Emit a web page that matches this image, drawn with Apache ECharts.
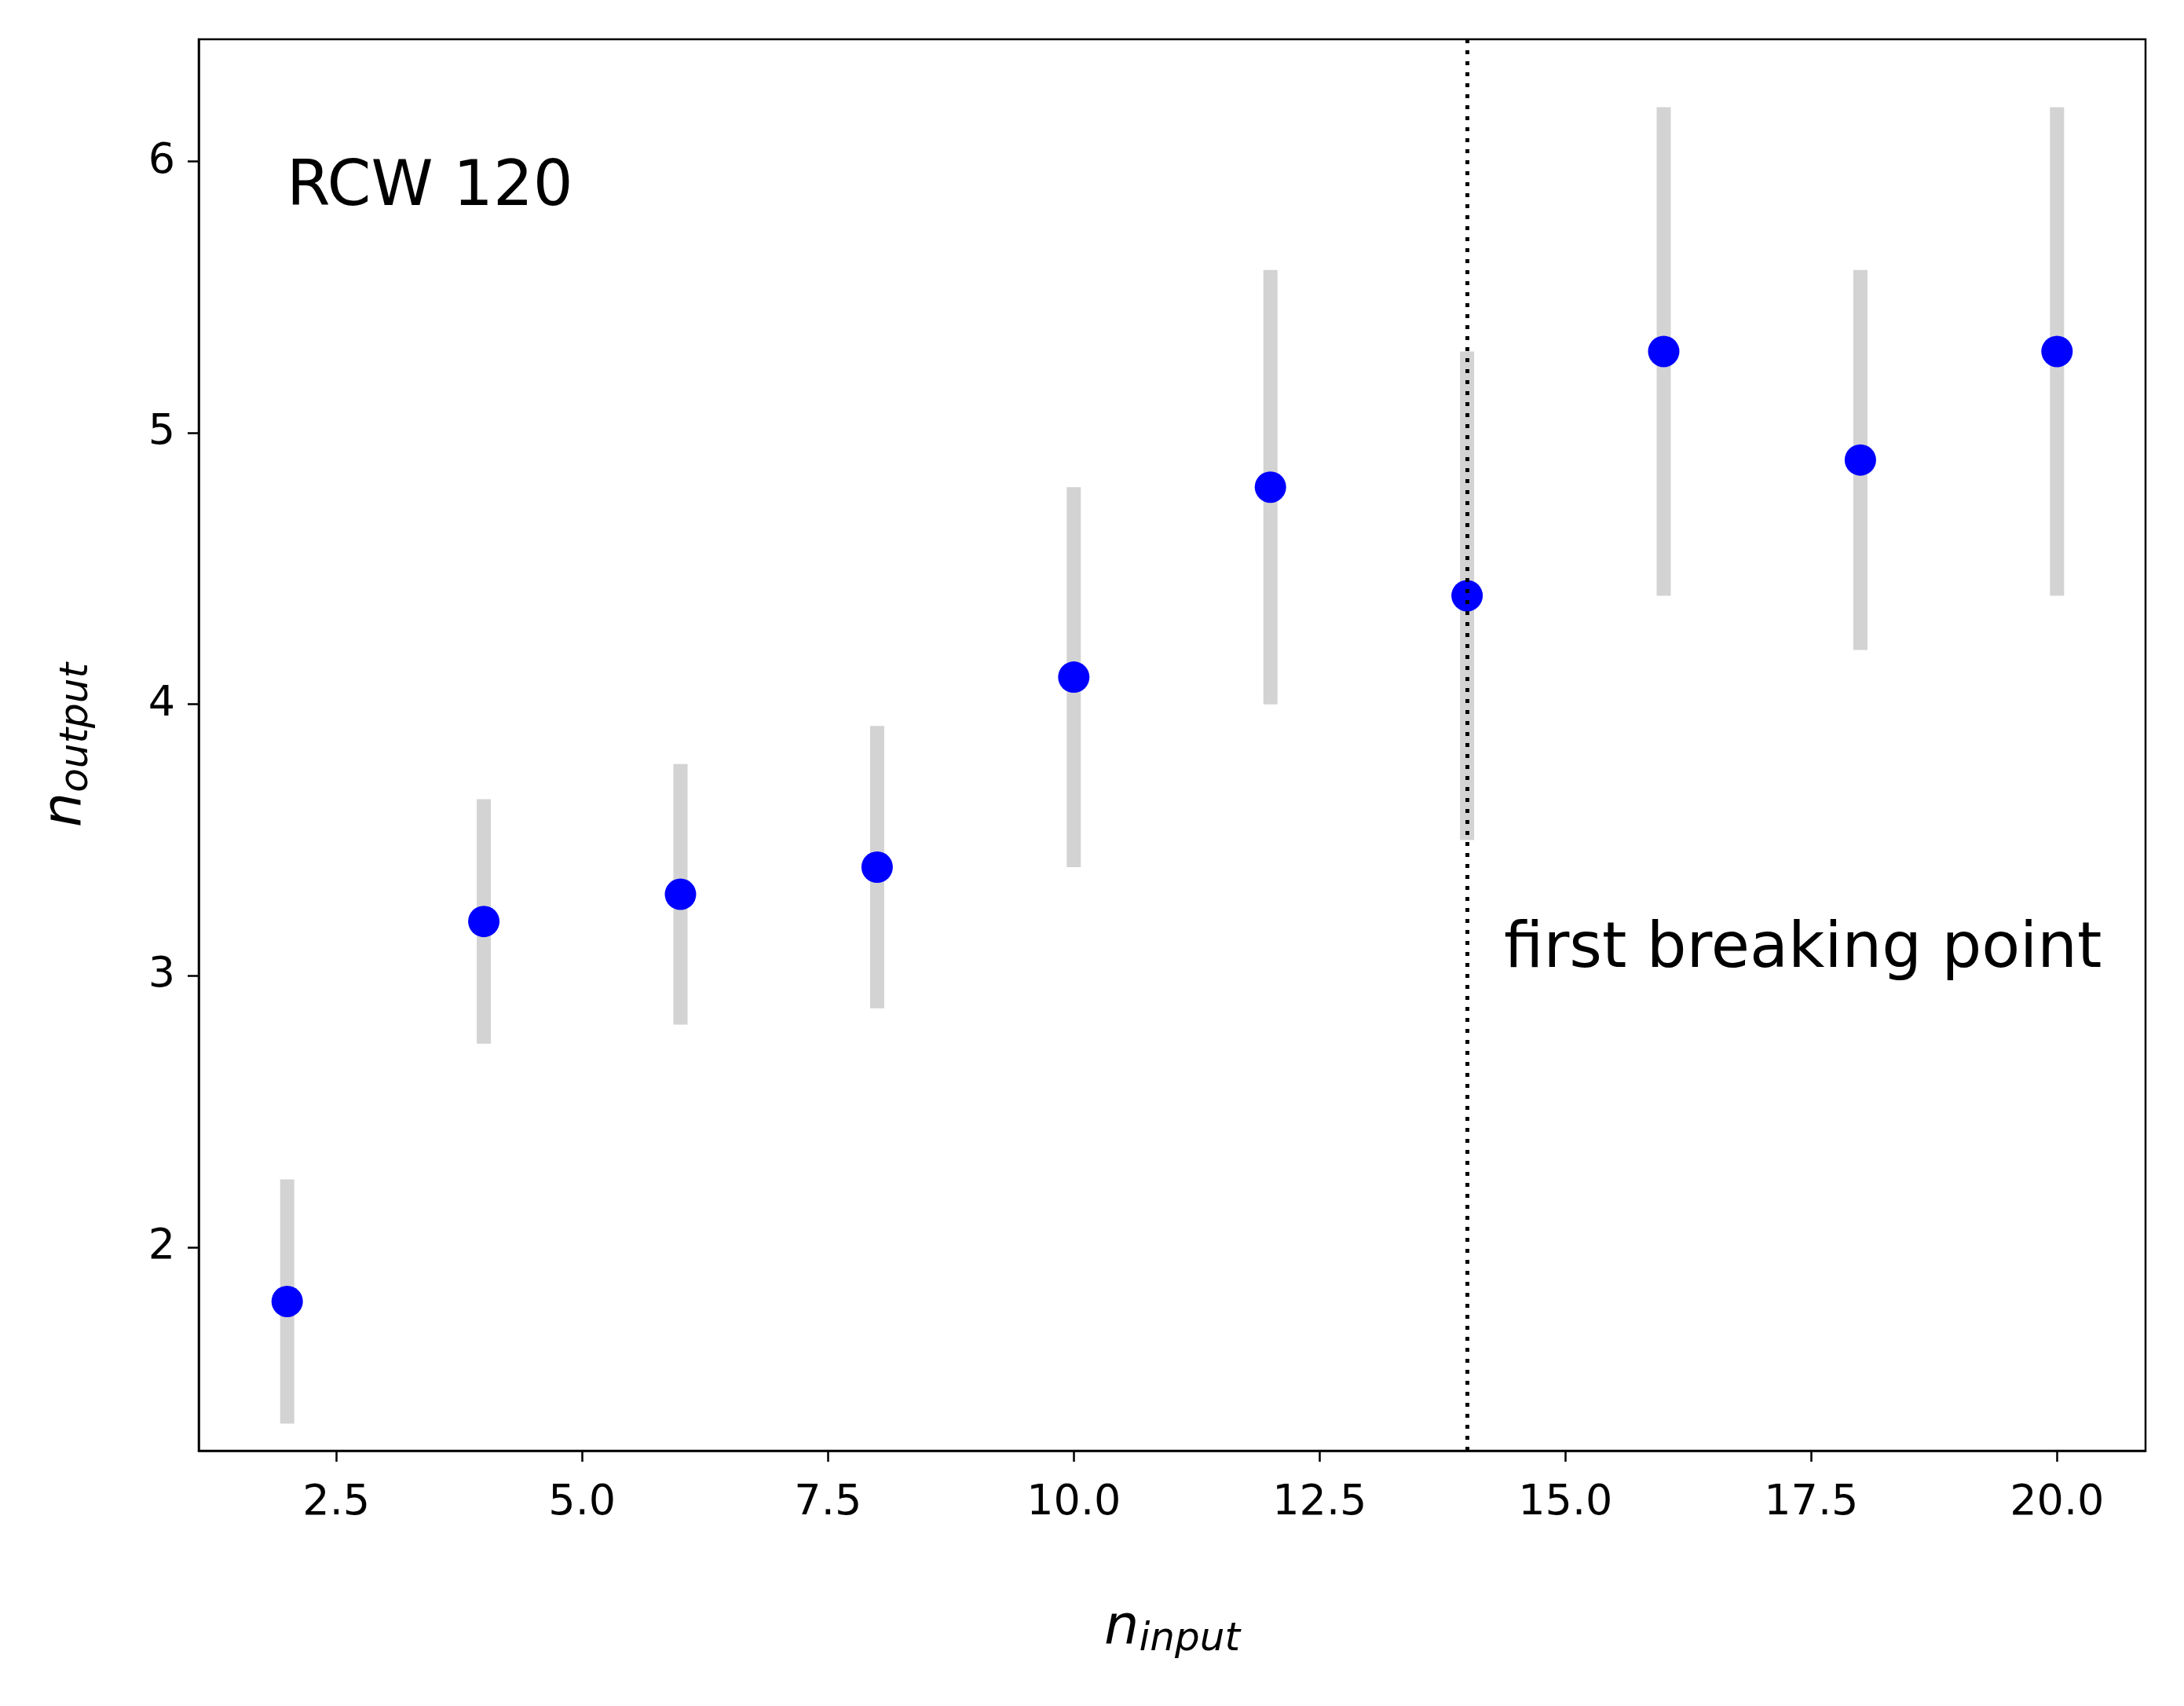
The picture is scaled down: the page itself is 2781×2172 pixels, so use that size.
<!DOCTYPE html>
<html>
<head>
    <meta charset="utf-8">
    <title>RCW 120</title>
    <script src="https://cdn.jsdelivr.net/npm/echarts@6/dist/echarts.min.js"></script>
    <style>html,body{margin:0;padding:0;background:#fff;}</style>
</head>
<body>
    <div id="main" style="width: 2781px;height:2172px;"></div>
    <script type="text/javascript">
        var nInput = [2, 4, 6, 8, 10, 12, 14, 16, 18, 20];
        var nOutput = [1.8, 3.2, 3.3, 3.4, 4.1, 4.8, 4.4, 5.3, 4.9, 5.3];
        var errLow = [1.35, 2.75, 2.82, 2.88, 3.4, 4.0, 3.5, 4.4, 4.2, 4.4];
        var errHigh = [2.25, 3.65, 3.78, 3.92, 4.8, 5.6, 5.3, 6.2, 5.6, 6.2];
        var xTicks = [2.5, 5.0, 7.5, 10.0, 12.5, 15.0, 17.5, 20.0];
        var yTicks = [2, 3, 4, 5, 6];
        var breakX = 14;

        var chart = echarts.init(document.getElementById('main'));
        var font = 'DejaVu Sans';

        var points = nInput.map(function (x, i) { return [x, nOutput[i]]; });
        var bars = nInput.map(function (x, i) { return [x, errLow[i], errHigh[i]]; });

        var nameRich = {
            i: { fontSize: 70, fontStyle: 'italic', fontFamily: font, color: '#000' },
            s: { fontSize: 50, fontStyle: 'italic', fontFamily: font, color: '#000', verticalAlign: 'bottom', padding: [26, 0, 0, 0] }
        };

        var option = {
            animation: false,
            textStyle: { fontFamily: font },
            grid: { left: 253, right: 49, top: 50, bottom: 325 },
            xAxis: {
                type: 'value', min: 1.1, max: 20.9,
                name: '{i|n}{s|input}', nameLocation: 'middle', nameGap: 190,
                nameTextStyle: { rich: nameRich },
                axisLine: { onZero: false, lineStyle: { color: '#000', width: 2.5 } },
                axisTick: { customValues: xTicks, length: 14, lineStyle: { color: '#000', width: 2.5 } },
                axisLabel: { customValues: xTicks, fontSize: 54, color: '#000', margin: 40,
                    formatter: function (v) { return v.toFixed(1); } },
                splitLine: { show: false }
            },
            yAxis: {
                type: 'value', min: 1.25, max: 6.45,
                name: '{i|n}{s|output}', nameLocation: 'middle', nameGap: 130,
                nameTextStyle: { rich: nameRich },
                axisLine: { show: true, onZero: false, lineStyle: { color: '#000', width: 2.5 } },
                axisTick: { show: true, customValues: yTicks, length: 14, lineStyle: { color: '#000', width: 2.5 } },
                axisLabel: { customValues: yTicks, fontSize: 54, color: '#000', margin: 30 },
                splitLine: { show: false }
            },
            series: [
                {
                    type: 'custom',
                    data: bars,
                    encode: { x: 0, y: [1, 2] },
                    renderItem: function (params, api) {
                        var p1 = api.coord([api.value(0), api.value(1)]);
                        var p2 = api.coord([api.value(0), api.value(2)]);
                        return {
                            type: 'line',
                            shape: { x1: p1[0], y1: p1[1], x2: p2[0], y2: p2[1] },
                            style: { stroke: '#d3d3d3', lineWidth: 18 }
                        };
                    },
                    z: 1
                },
                {
                    type: 'scatter',
                    data: points,
                    symbolSize: 40,
                    itemStyle: { color: '#0000ff', opacity: 1 },
                    z: 3,
                    markLine: {
                        silent: true, symbol: 'none', label: { show: false },
                        lineStyle: { color: '#000', type: [5, 9], width: 5 },
                        data: [{ xAxis: breakX }]
                    }
                }
            ],
            graphic: [
                { type: 'text', left: 365, top: 200,
                  style: { text: 'RCW 120', fontSize: 80, fontFamily: font, fill: '#000' } },
                { type: 'text', left: 1915, top: 1170,
                  style: { text: 'first breaking point', fontSize: 80, fontFamily: font, fill: '#000' } },
                { type: 'rect', shape: { x: 253, y: 50, width: 2479, height: 1797 },
                  style: { fill: 'none', stroke: '#000', lineWidth: 2.5 }, z: 10 }
            ]
        };
        chart.setOption(option);
    </script>
</body>
</html>
